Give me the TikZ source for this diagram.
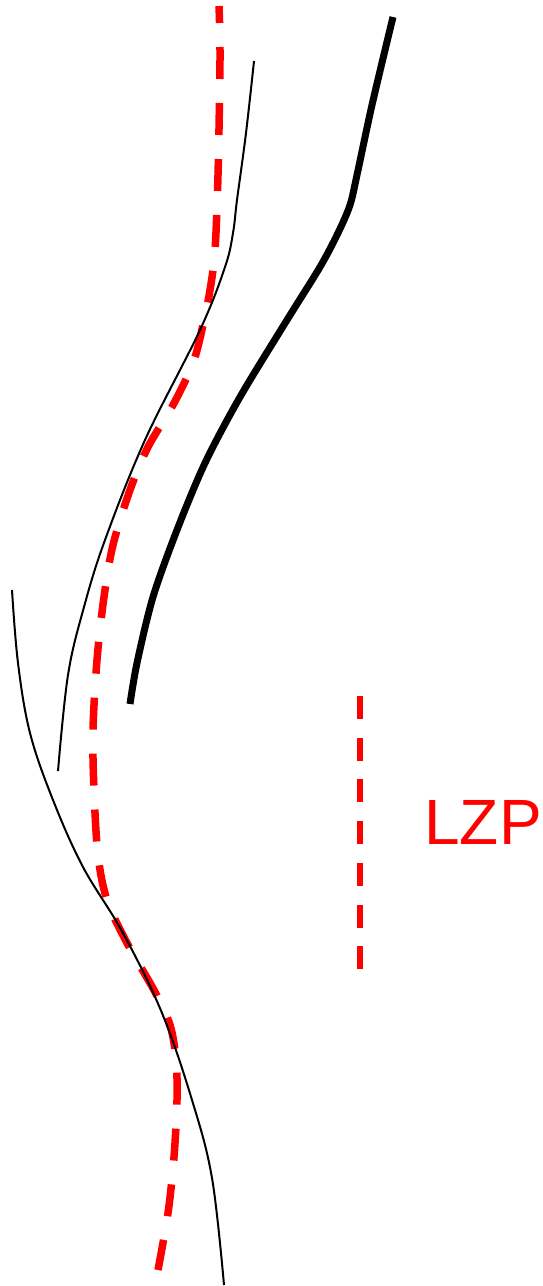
\documentclass[tikz,border=0pt]{standalone}
\usepackage{fontspec}
\setmainfont{Liberation Sans}
\begin{document}
\begin{tikzpicture}[x=1pt,y=-1pt,
  thinline/.style={draw=black,line width=2pt},
  thickline/.style={draw=black,line width=7pt},
  reddash/.style={draw=red,line width=7.5pt,dash pattern=on 32pt off 24pt,dash phase=15pt},
  legenddash/.style={draw=red,line width=6pt,dash pattern=on 23pt off 18.7pt},
  lbl/.style={text=red,font=\fontsize{64}{64}\selectfont,inner sep=0pt,anchor=base}]
\useasboundingbox (0,0) rectangle (542,1286);
% red dashed path
\draw[reddash] plot[smooth,tension=0.55] coordinates {(219,6) (220,60) (218,175) (215,250) (210,290) (203,325) (193,363) (173,405) (148,447) (130,490) (113,545) (104,597) (97,660) (93,730) (94,790) (98,855) (107,900) (127,943) (155,992) (170,1025) (176,1060) (177,1100) (174,1157) (168,1213) (158,1270)};
% thin upper black
\draw[thinline] plot[smooth,tension=0.6] coordinates {(254,61) (246,133) (237,200) (233,233) (225,267) (200,330) (145,440) (105,540) (84,607) (68,675) (58,771)};
% thick black
\draw[thickline] plot[smooth,tension=0.5] coordinates {(393,17) (372,105) (357,175) (350,205) (338,233) (320,267) (287,320) (240,397) (205,463) (177,530) (153,597) (137,663) (130,704)};
% thin lower black
\draw[thinline] plot[smooth,tension=0.6] coordinates {(12,590) (18,663) (30,733) (53,800) (83,867) (123,933) (162,1013) (192,1100) (212,1178) (224,1285)};
% legend
\coordinate (lt) at (360,696);
\coordinate (lb) at (360,969);
\draw[legenddash] (lt) -- (lb);
\node[lbl] (lzp) at (483,844) {LZP};
\end{tikzpicture}
\end{document}
